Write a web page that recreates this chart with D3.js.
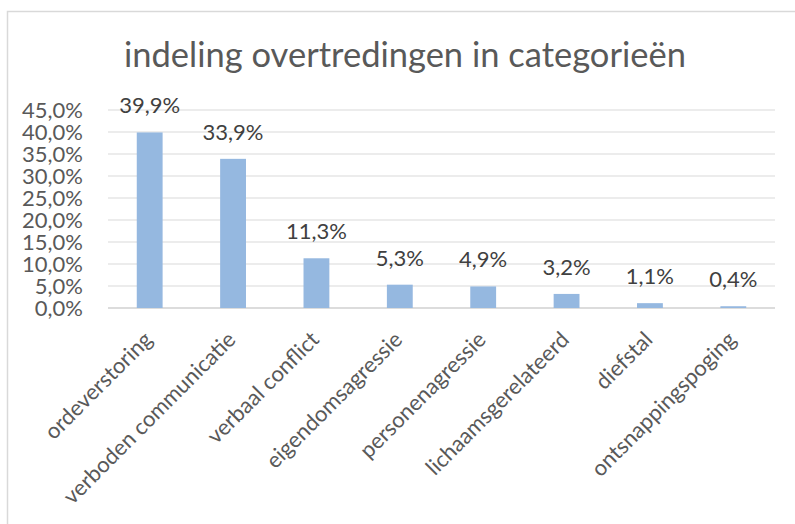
<!DOCTYPE html>
<html><head><meta charset="utf-8">
<script src="https://cdn.jsdelivr.net/npm/d3@7"></script>
<style>body{margin:0;background:#fff;} text{font-family:Lato, "Open Sans", sans-serif;}</style>
</head><body>
<svg id="c" width="795" height="524"></svg>
<script>
const categories = ["ordeverstoring","verboden communicatie","verbaal conflict","eigendomsagressie","personenagressie","lichaamsgerelateerd","diefstal","ontsnappingspoging"];
const values = [39.9, 33.9, 11.3, 5.3, 4.9, 3.2, 1.1, 0.4];
const valueLabels = ["39,9%","33,9%","11,3%","5,3%","4,9%","3,2%","1,1%","0,4%"];
const yTicks = [0,5,10,15,20,25,30,35,40,45];
const yTickLabels = ["0,0%","5,0%","10,0%","15,0%","20,0%","25,0%","30,0%","35,0%","40,0%","45,0%"];
const title = "indeling overtredingen in categorieën";

const svg = d3.select("#c");
const m = {left:108, right:775, top:110, bottom:308};
// border
svg.append("rect").attr("x",7.5).attr("y",11.5).attr("width",900).attr("height",600)
  .attr("fill","none").attr("stroke","#d9d9d9").attr("stroke-width",1.5);

svg.append("text").attr("x",405).attr("y",67).attr("text-anchor","middle")
  .attr("font-size",34.5).attr("fill","#595959").text(title);

const x = d3.scaleBand().domain(categories).range([m.left,m.right]).paddingInner(0.69).paddingOuter(0.345);
const y = d3.scaleLinear().domain([0,45]).range([m.bottom,m.top]);

// gridlines
svg.append("g").selectAll("line").data(yTicks).join("line")
  .attr("x1",m.left).attr("x2",m.right).attr("y1",d=>y(d)).attr("y2",d=>y(d))
  .attr("stroke",d=>d===0?"#d0d0d0":"#d9d9d9").attr("stroke-width",d=>d===0?1.5:1);

// y axis
const ya = svg.append("g").attr("transform",`translate(${m.left},0)`)
  .call(d3.axisLeft(y).tickValues(yTicks).tickFormat((d,i)=>yTickLabels[i]).tickSize(0).tickPadding(25));
ya.select(".domain").remove();
ya.selectAll("text").attr("font-size",22).attr("fill","#595959").attr("font-family","Lato");

// bars
svg.append("g").selectAll("rect").data(values).join("rect")
  .attr("x",(d,i)=>x(categories[i])).attr("width",x.bandwidth())
  .attr("y",d=>y(d)).attr("height",d=>y(0)-y(d)).attr("fill","#95b8e0");

// data labels
svg.append("g").selectAll("text").data(values).join("text")
  .attr("x",(d,i)=>x(categories[i])+x.bandwidth()/2).attr("y",d=>y(d)-19)
  .attr("text-anchor","middle").attr("font-size",22).attr("fill","#404040")
  .text((d,i)=>valueLabels[i]);

// x axis labels
const xa = svg.append("g").attr("transform",`translate(0,${m.bottom})`)
  .call(d3.axisBottom(x).tickSize(0).tickPadding(0));
xa.select(".domain").remove();
xa.selectAll("text").attr("font-size",22).attr("fill","#595959").attr("font-family","Lato")
  .attr("text-anchor","end").attr("dy",0)
  .attr("transform","translate(4,33) rotate(-45)");
</script>
</body></html>
